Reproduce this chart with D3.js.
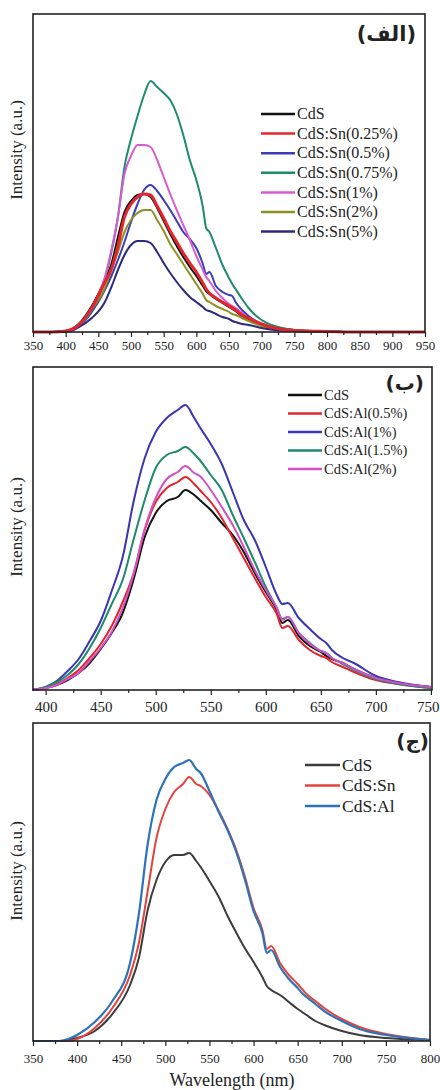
<!DOCTYPE html>
<html>
<head>
<meta charset="utf-8">
<script src="https://cdn.jsdelivr.net/npm/d3@7"></script>
<style>
  body { margin: 0; background: #fff; }
  svg text { font-family: "Liberation Serif", "Times New Roman", serif; fill: #222; }
</style>
</head>
<body>
<div class="chart"></div>
<script>
// (الف) Sn doped CdS, intensity (a.u.)
const wlSn = [350, 380, 400, 420, 440, 460, 470, 480, 490, 500, 510, 520, 530, 540, 550, 560, 570, 580, 590, 600,
              610, 615, 620, 630, 640, 650, 655, 660, 670, 680, 700, 720, 750, 800, 850, 900, 950];
const snCdS = [0,0,1,8,26,52,68,95,120,131, 137,138,135,124,111,98,86,75,65,56, 46,41,38,33,29,25,23,21,16,13, 7,4,1.5,0.5,0,0,0];
const sn025 = [0,0,1,7,24,50,63,86,115,128, 135,138,137,126,114,101,90,79,69,60, 49,43,39,34,30,26,24,22,17,14, 8,4,1.5,0.5,0,0,0];
const sn05  = [0,0,0,5,20,42,56,72,90,110, 128,142,147,141,132,122,111,100,93,84, 68,58,60,46,40,37,36,30,22,16, 8,5,2,0.5,0,0,0];
const sn075 = [0,0,1,6,22,53,80,115,165,193, 216,237,251,245,239,232,218,197,172,152, 125,104,100,84,67,54,48,43,33,24, 12,6,2,0.5,0,0,0];
const sn1   = [0,0,1,6,24,55,82,115,158,176, 187,187,185,172,155,138,122,107,92,76, 62,55,51,41,34,28,26,24,19,14, 7,3,1,0,0,0,0];
const sn2   = [0,0,1,7,23,44,62,80,100,112, 119,122,122,112,101,88,78,68,58,48, 38,32,30,26,23,20,18,17,14,11, 6,3,1,0.5,0,0,0];
const sn5   = [0,0,1,5,14,30,45,62,77,87, 91,91,89,80,69,59,50,42,35,30, 25,22,21,18,15,13,11,10,8,7, 4,2,1,0,0,0,0];
const snLabels = ["CdS", "CdS:Sn(0.25%)", "CdS:Sn(0.5%)", "CdS:Sn(0.75%)", "CdS:Sn(1%)", "CdS:Sn(2%)", "CdS:Sn(5%)"];

// (ب) Al doped CdS
const wlAl = [388, 400, 410, 420, 430, 440, 450, 460, 470, 480, 490, 500, 510, 520, 527, 535, 540, 550, 560, 570,
              580, 590, 600, 610, 615, 620, 630, 640, 650, 655, 660, 670, 680, 700, 720, 750];
const alCdS = [0,2,5,10,17,27,41,57,77,111, 153,177,189,193,200,195,190,180,167,155, 138,117,98,80,67,70,54,44,38,34, 31,27,21,12,7,3];
const al05  = [0,2,6,12,20,32,46,64,88,117, 160,188,202,208,213,206,200,188,172,152, 132,112,93,76,62,64,50,40,34,32, 28,23,18,10,6,2];
const al1   = [0,3,9,19,31,49,69,99,133,189, 232,258,272,280,285,272,263,246,226,198, 170,150,123,95,86,87,72,61,51,47, 40,32,27,14,8,3];
const al15  = [0,3,8,15,26,42,62,86,110,151, 190,222,235,239,243,236,230,215,200,175, 152,128,103,82,71,73,57,47,39,37, 32,26,20,11,6,2];
const al2   = [0,2,5,11,17,29,42,58,82,116, 161,192,211,218,224,217,214,200,183,165, 143,120,100,82,70,73,57,46,39,37, 32,27,21,12,7,3];
const alLabels = ["CdS", "CdS:Al(0.5%)", "CdS:Al(1%)", "CdS:Al(1.5%)", "CdS:Al(2%)"];

// (ج) comparison
const wlMix = [350, 380, 390, 400, 420, 440, 460, 470, 480, 490, 500, 510, 520, 527, 535, 540, 550, 560, 570, 580,
               590, 600, 610, 615, 620, 630, 640, 650, 655, 660, 670, 680, 700, 720, 750, 800];
const mixCdS = [0,0,1,3,10,27,56,83,131,161, 179,186,186,188,180,174,160,145,126,109, 93,79,64,55,51,46,39,32,29,26, 20,16,10,6,3,1];
const mixSn  = [0,0,0,2,13,33,66,98,150,203, 232,249,257,264,257,255,246,231,213,192, 165,133,111,92,95,78,66,57,52,47, 40,33,22,14,7,1];
const mixAl  = [0,0,2,6,19,40,78,127,197,241, 262,274,278,281,272,268,250,230,212,190, 162,130,108,88,91,74,62,53,48,44, 37,30,20,12,6,1];
const mixLabels = ["CdS", "CdS:Sn", "CdS:Al"];

const W = 440, H = 1090;
const svg = d3.select(".chart").append("svg")
    .attr("width", W)
    .attr("height", H)
    .style("display", "block");

svg.append("rect").attr("width", W).attr("height", H).attr("fill", "#fff");

const panels = [
  {
    box: [33, 14, 425, 332], xdom: [350, 950], ymax: 318,
    wl: wlSn, series: [snCdS, sn025, sn05, sn075, sn1, sn2, sn5], labels: snLabels,
    drawOrder: [0, 2, 3, 4, 5, 6, 1],
    colors: ["#111", "#e3262d", "#3b3db3", "#1e8a72", "#d75bd2", "#8f8f24", "#2c2a7c"],
    widths: [2, 3, 2, 2, 2, 2, 2],
    majors: d3.range(350, 951, 50), minors: d3.range(375, 950, 50),
    tickFs: 13, tickPad: 4,
    legend: { x1: 261, x2: 295, y: 114, dy: 19.6, fs: 16 },
    title: { text: "(الف)", x: 416, y: 41, fs: 21 },
    ylab: { x: 22, y: 150 }
  },
  {
    box: [33, 367, 432, 690], xdom: [388.5, 751], ymax: 323,
    wl: wlAl, series: [alCdS, al05, al1, al15, al2], labels: alLabels,
    drawOrder: [0, 1, 2, 3, 4],
    colors: ["#111", "#e3262d", "#3a36b2", "#1d8a6c", "#d251c8"],
    widths: [2, 2, 2, 2, 2],
    majors: d3.range(400, 751, 50), minors: d3.range(425, 750, 50),
    tickFs: 15, tickPad: 6,
    legend: { x1: 288, x2: 322, y: 395, dy: 18.5, fs: 14.5 },
    title: { text: "(ب)", x: 424, y: 390, fs: 20 },
    ylab: { x: 22, y: 527 }
  },
  {
    box: [33, 723, 430, 1041], xdom: [350, 800], ymax: 318,
    wl: wlMix, series: [mixCdS, mixSn, mixAl], labels: mixLabels,
    drawOrder: [0, 1, 2],
    colors: ["#3c3c3c", "#e2443d", "#2e72b8"],
    widths: [2, 2, 2.2],
    majors: d3.range(350, 801, 50), minors: d3.range(375, 800, 50),
    tickFs: 13, tickPad: 8,
    legend: { x1: 305, x2: 340, y: 765, dy: 20.5, fs: 17.5 },
    title: { text: "(ج)", x: 429, y: 748, fs: 20 },
    ylab: { x: 22, y: 871 }
  }
];

panels.forEach(p => {
  const [x0, y0, x1, y1] = p.box;
  const x = d3.scaleLinear().domain(p.xdom).range([x0, x1]);
  const y = d3.scaleLinear().domain([0, p.ymax]).range([y1, y0]);

  const g = svg.append("g");

  const line = d3.line()
      .x((d, i) => x(p.wl[i]))
      .y(d => y(d))
      .curve(d3.curveMonotoneX);

  // curves (red of panel 1 goes on top)
  g.selectAll("path.curve")
    .data(p.drawOrder)
    .join("path")
    .attr("class", "curve")
    .attr("fill", "none")
    .attr("stroke", k => p.colors[k])
    .attr("stroke-width", k => p.widths[k])
    .attr("stroke-linejoin", "round")
    .attr("d", k => line(p.series[k]));

  // frame
  g.append("rect")
    .attr("x", x0).attr("y", y0)
    .attr("width", x1 - x0).attr("height", y1 - y0)
    .attr("fill", "none")
    .attr("stroke", "#222")
    .attr("stroke-width", 1.6);

  // x axis, majors + minors
  g.append("g")
    .attr("transform", `translate(0,${y1})`)
    .call(d3.axisBottom(x).tickValues(p.minors).tickSize(3).tickFormat(""))
    .call(a => a.select(".domain").remove())
    .selectAll("line").attr("stroke", "#222").attr("stroke-width", 1.2);

  const ax = g.append("g")
    .attr("transform", `translate(0,${y1})`)
    .call(d3.axisBottom(x).tickValues(p.majors).tickSize(5).tickPadding(p.tickPad).tickFormat(d3.format("d")))
    .call(a => a.select(".domain").remove());
  ax.selectAll("line").attr("stroke", "#222").attr("stroke-width", 1.2);
  ax.selectAll("text")
    .attr("font-size", p.tickFs)
    .attr("font-family", "Liberation Serif")
    .attr("fill", "#222");
  // keep the last label inside the page
  ax.selectAll(".tick text")
    .filter(d => x(d) + p.tickFs * 0.75 > W)
    .attr("text-anchor", "end")
    .attr("x", d => W - 1 - x(d));

  // y label
  g.append("text")
    .attr("transform", `translate(${p.ylab.x},${p.ylab.y}) rotate(-90)`)
    .attr("text-anchor", "middle")
    .attr("font-size", 17)
    .text("Intensity (a.u.)");

  // title
  g.append("text")
    .attr("x", p.title.x)
    .attr("y", p.title.y)
    .attr("text-anchor", "end")
    .attr("font-size", p.title.fs)
    .attr("font-weight", "bold")
    .style("font-family", "'DejaVu Sans', sans-serif")
    .text(p.title.text);

  // legend
  const lg = g.append("g");
  p.labels.forEach((lab, i) => {
    const yy = p.legend.y + i * p.legend.dy;
    lg.append("line")
      .attr("x1", p.legend.x1).attr("x2", p.legend.x2)
      .attr("y1", yy).attr("y2", yy)
      .attr("stroke", p.colors[i])
      .attr("stroke-width", 2.5);
    lg.append("text")
      .attr("x", p.legend.x2 + 2)
      .attr("y", yy)
      .attr("dy", "0.33em")
      .attr("font-size", p.legend.fs)
      .text(lab);
  });
});

svg.append("text")
  .attr("x", 232)
  .attr("y", 1086)
  .attr("text-anchor", "middle")
  .attr("font-size", 18)
  .text("Wavelength (nm)");
</script>
</body>
</html>
